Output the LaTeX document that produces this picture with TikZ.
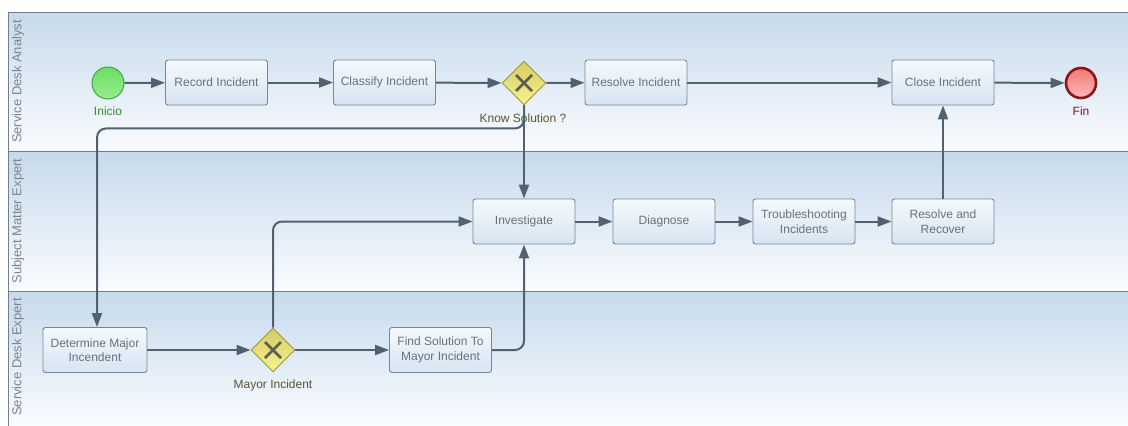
\documentclass[tikz,border=0pt]{standalone}
\usepackage{fontspec}
\setmainfont{Liberation Sans}
\usetikzlibrary{shapes.geometric,arrows.meta}
\definecolor{lanetop}{RGB}{198,218,237}
\definecolor{lanebot}{RGB}{250,252,254}
\definecolor{laneline}{RGB}{115,128,140}
\definecolor{boxtop}{RGB}{246,249,252}
\definecolor{boxbot}{RGB}{214,228,242}
\definecolor{boxborder}{RGB}{120,134,148}
\definecolor{textgray}{RGB}{105,114,124}
\definecolor{lineclr}{RGB}{82,97,112}
\definecolor{gwtop}{RGB}{214,204,96}
\definecolor{gwbot}{RGB}{246,242,150}
\definecolor{gwborder}{RGB}{160,150,60}
\definecolor{xclr}{RGB}{95,92,80}
\definecolor{gwlabel}{RGB}{90,85,50}
\definecolor{starttop}{RGB}{150,236,140}
\definecolor{startbot}{RGB}{110,222,105}
\definecolor{startborder}{RGB}{70,160,70}
\definecolor{startlabel}{RGB}{58,138,48}
\definecolor{endtop}{RGB}{242,120,120}
\definecolor{endbot}{RGB}{250,185,185}
\definecolor{endborder}{RGB}{140,20,25}
\definecolor{endlabel}{RGB}{140,20,25}
\definecolor{lanelabel}{RGB}{125,132,140}
\begin{document}
\begin{tikzpicture}[x=1pt,y=-1pt,
  txt/.style={font=\fontsize{12}{14.5}\selectfont},
  task/.style={txt, rectangle, rounded corners=2.5pt, draw=boxborder, line width=0.9pt,
    top color=boxtop, bottom color=boxbot, text=textgray,
    minimum width=102pt, minimum height=45pt, inner sep=2pt, align=center},
  gateway/.style={diamond, draw=gwborder, line width=0.9pt, top color=gwtop, bottom color=gwbot,
    minimum width=44pt, minimum height=44pt, inner sep=0pt,
    path picture={\draw[xclr, line width=2.6pt]
      ([shift={(-8pt,-8pt)}]path picture bounding box.center) -- ([shift={(8pt,8pt)}]path picture bounding box.center)
      ([shift={(-8pt,8pt)}]path picture bounding box.center) -- ([shift={(8pt,-8pt)}]path picture bounding box.center);}},
  startev/.style={circle, draw=startborder, line width=1pt, top color=startbot, bottom color=starttop, minimum size=32pt, inner sep=0pt},
  endev/.style={circle, draw=endborder, line width=2.6pt, top color=endtop, bottom color=endbot, minimum size=30pt, inner sep=0pt},
  flow/.style={draw=lineclr, line width=2pt, -{Triangle[length=14pt,width=10pt]}},
  lbl/.style={txt, inner sep=0pt},
  lanehead/.style={font=\fontsize{13}{15}\selectfont, text=lanelabel, rotate=90, inner sep=0pt}
]
\useasboundingbox (0,0) rectangle (1128,426);
\fill[white] (0,0) rectangle (1128,426);
% lanes
\shade[top color=lanetop, bottom color=lanebot] (8,12) rectangle (1128,151);
\shade[top color=lanetop, bottom color=lanebot] (8,151) rectangle (1128,291);
\shade[top color=lanetop, bottom color=lanebot] (8,291) rectangle (1128,426);
\draw[laneline, line width=0.8pt] (1128,12) -- (8,12) -- (8,426);
\draw[laneline, line width=0.8pt] (8,151) -- (1128,151);
\draw[laneline, line width=0.8pt] (8,291) -- (1128,291);
\node[lanehead] (l1) at (18,81.5) {Service Desk Analyst};
\node[lanehead] (l2) at (18,221) {Subject Matter Expert};
\node[lanehead] (l3) at (18,357) {Service Desk Expert};
% nodes
\node[startev] (start) at (108,83) {};
\node[lbl, text=startlabel] (startl) at (108,111) {Inicio};
\node[task] (rec) at (216.5,82.5) {Record Incident};
\node[task] (cla) at (384.5,82.5) {Classify Incident};
\node[gateway] (g1) at (524,83) {};
\node[lbl, text=gwlabel] (g1l) at (523,118) {Know Solution ?};
\node[task] (res) at (636,82.5) {Resolve Incident};
\node[task] (clo) at (943,82.5) {Close Incident};
\node[endev] (fin) at (1081,83) {};
\node[lbl, text=endlabel] (finl) at (1081,111) {Fin};
\node[task] (inv) at (524,221.5) {Investigate};
\node[task] (dia) at (664,221.5) {Diagnose};
\node[task] (tro) at (804,221.5) {Troubleshooting\\Incidents};
\node[task] (rar) at (943,221.5) {Resolve and\\Recover};
\node[task, minimum width=104pt] (det) at (95,350) {Determine Major\\Incendent};
\node[gateway] (g2) at (273,350) {};
\node[lbl, text=gwlabel] (g2l) at (273,385) {Mayor Incident};
\node[task] (fnd) at (440.5,350) {Find Solution To\\Mayor Incident};
% flows
\draw[flow] (start) -- (rec);
\draw[flow] (rec) -- (cla);
\draw[flow] (cla) -- (g1);
\draw[flow] (g1) -- (res);
\draw[flow] (res) -- (clo);
\draw[flow] (clo) -- (fin);
\draw[flow] (g1.south) -- (inv.north);
\draw[flow, rounded corners=9pt] (g1.south) -- ++(0,23) -| ([xshift=2pt]det.north);
\draw[flow] (inv) -- (dia);
\draw[flow] (dia) -- (tro);
\draw[flow] (tro) -- (rar);
\draw[flow] (rar.north) -- (clo.south);
\draw[flow] (det) -- (g2);
\draw[flow] (g2) -- (fnd);
\draw[flow, rounded corners=9pt] (g2.north) |- (inv.west);
\draw[flow, rounded corners=9pt] (fnd.east) -| (inv.south);
\end{tikzpicture}
\end{document}
